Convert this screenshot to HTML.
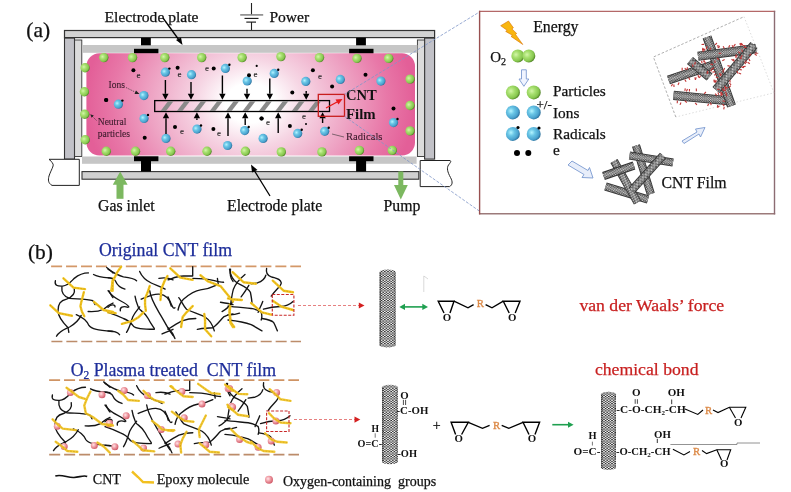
<!DOCTYPE html>
<html><head><meta charset="utf-8"><title>CNT plasma figure</title>
<style>
html,body{margin:0;padding:0;background:#fff;}
body{width:791px;height:492px;overflow:hidden;}
svg{display:block;}
svg text{font-family:'Liberation Serif', 'Times New Roman', serif;}
</style></head><body>
<svg width="791" height="492" viewBox="0 0 791 492">
<rect width="791" height="492" fill="#fff"/>

<defs>
 <radialGradient id="plasma" gradientUnits="userSpaceOnUse" cx="250" cy="103" r="165" gradientTransform="translate(250 103) scale(1 0.8) translate(-250 -103)">
  <stop offset="0" stop-color="#ffffff"/>
  <stop offset="0.15" stop-color="#ffffff"/>
  <stop offset="0.33" stop-color="#f6d6e4"/>
  <stop offset="0.6" stop-color="#eea4c4"/>
  <stop offset="0.83" stop-color="#e878a8"/>
  <stop offset="1" stop-color="#e35f98"/>
 </radialGradient>
 <radialGradient id="gs" cx="0.36" cy="0.4" r="0.68">
  <stop offset="0" stop-color="#d4f6aa"/>
  <stop offset="0.35" stop-color="#a8e070"/>
  <stop offset="0.75" stop-color="#86c64e"/>
  <stop offset="1" stop-color="#44741c"/>
 </radialGradient>
 <radialGradient id="bs" cx="0.36" cy="0.4" r="0.68">
  <stop offset="0" stop-color="#b4f4ff"/>
  <stop offset="0.35" stop-color="#6ac6e6"/>
  <stop offset="0.75" stop-color="#4aa2ce"/>
  <stop offset="1" stop-color="#266690"/>
 </radialGradient>
 <radialGradient id="ps" cx="0.38" cy="0.38" r="0.66">
  <stop offset="0" stop-color="#ffe4e8"/>
  <stop offset="0.45" stop-color="#f0a0a8"/>
  <stop offset="1" stop-color="#d05866"/>
 </radialGradient>
 <pattern id="mesh" width="3.2" height="2.8" patternUnits="userSpaceOnUse">
  <rect width="3.2" height="2.8" fill="#fff"/>
  <circle cx="1.6" cy="1.4" r="1.05" fill="none" stroke="#111" stroke-width="0.75"/>
 </pattern>
 <pattern id="chk" width="3.2" height="2.4" patternUnits="userSpaceOnUse">
  <rect width="3.2" height="2.4" fill="#fff"/>
  <rect x="0" y="0" width="1.6" height="1.1" fill="#1a1a1a"/>
  <rect x="1.6" y="1.2" width="1.6" height="1.1" fill="#1a1a1a"/>
 </pattern>
 <pattern id="chk2" width="2.6" height="2.4" patternUnits="userSpaceOnUse">
  <rect width="2.6" height="2.4" fill="#e8e8e8"/>
  <rect x="0" y="0" width="1.3" height="1.2" fill="#333"/>
  <rect x="1.3" y="1.2" width="1.3" height="1.2" fill="#333"/>
 </pattern>
 <pattern id="hexd" width="2.3" height="2.0" patternUnits="userSpaceOnUse">
  <rect width="2.3" height="2.0" fill="#383838"/>
  <circle cx="0.575" cy="0.5" r="0.52" fill="#eeeeee"/>
  <circle cx="1.725" cy="1.5" r="0.52" fill="#eeeeee"/>
 </pattern>
 <pattern id="mesh2" width="2.6" height="2.4" patternUnits="userSpaceOnUse">
  <rect width="2.6" height="2.4" fill="#555"/>
  <circle cx="1.3" cy="1.2" r="0.6" fill="#ddd"/>
 </pattern>
</defs>

<text x="26.3" y="37.2" font-size="21.5" fill="#111" font-weight="normal" text-anchor="start" stroke="#111" stroke-width="0.25" >(a)</text>
<text x="104.6" y="21.9" font-size="15.6" fill="#111" font-weight="normal" text-anchor="start" stroke="#111" stroke-width="0.25" >Electrode plate</text>
<text x="269.4" y="21.8" font-size="15.6" fill="#111" font-weight="normal" text-anchor="start" stroke="#111" stroke-width="0.25" >Power</text>
<line x1="251.5" y1="3" x2="251.5" y2="15" stroke="#222" stroke-width="1.1"/>
<line x1="240.2" y1="14.9" x2="263.2" y2="14.9" stroke="#888" stroke-width="1.6"/>
<line x1="244.5" y1="18.4" x2="258.5" y2="18.4" stroke="#111" stroke-width="1.1"/>
<line x1="246.3" y1="22.1" x2="255.9" y2="22.1" stroke="#111" stroke-width="1.1"/>
<line x1="251.5" y1="22" x2="251.5" y2="30.5" stroke="#222" stroke-width="1.1"/>
<rect x="64.5" y="30.5" width="370.1" height="7.1" fill="#d2d2d2" stroke="#333" stroke-width="1.2"/>
<rect x="64.5" y="38.1" width="10" height="121" fill="#c2c2c8" stroke="#333" stroke-width="1.1"/>
<rect x="424.6" y="38.1" width="10" height="121" fill="#c2c2c8" stroke="#333" stroke-width="1.1"/>
<rect x="74.6" y="40" width="7.2" height="116.5" fill="#dcdcdc" stroke="#333" stroke-width="0.9"/>
<rect x="417.4" y="40" width="7.2" height="116.5" fill="#dcdcdc" stroke="#333" stroke-width="0.9"/>
<rect x="82" y="45" width="335.4" height="7.8" fill="#c6c6c6"/>
<rect x="82" y="156.5" width="334.6" height="7.3" fill="#c6c6c6"/>
<rect x="82" y="171.6" width="336.8" height="7.6" fill="#d0d0d0" stroke="#333" stroke-width="1.1"/>
<path d="M49,159.3 L79.3,159.3 L79.3,185.4 L52,185.4 C48,183 48,180 49,176 C51,170 54,166 53,164 C52,162 50,160 49,159.3 Z" fill="#fff" stroke="#222" stroke-width="1"/>
<path d="M420.2,160.5 L450,160.5 C451.5,161.2 450.5,162.5 448.5,165 C446.5,168 447.5,172 450.5,177.5 C453,182 452.5,185 449.5,186.6 L420.2,186.6 Z" fill="#fff" stroke="#222" stroke-width="1"/>
<rect x="134" y="48.8" width="24.4" height="5" fill="#000"/>
<rect x="141" y="37.8" width="9.8" height="7.5" fill="#000"/>
<rect x="134" y="156.3" width="24.4" height="4.9" fill="#000"/>
<rect x="141" y="161" width="10" height="10.6" fill="#000"/>
<rect x="349.1" y="48.8" width="24.4" height="5" fill="#000"/>
<rect x="356.1" y="37.8" width="9.8" height="7.5" fill="#000"/>
<rect x="349.1" y="156.3" width="24.4" height="4.9" fill="#000"/>
<rect x="356.1" y="161" width="10" height="10.6" fill="#000"/>
<rect x="86.4" y="53.2" width="328.6" height="102.3" rx="13" ry="13" fill="url(#plasma)"/>
<rect x="154.7" y="100.6" width="174.8" height="10.9" fill="none" stroke="#000" stroke-width="1.3"/>
<polygon points="160.5,111 166.0,111 173.5,101.2 168.0,101.2" fill="#8a8a8a"/>
<polygon points="176.9,111 182.4,111 189.9,101.2 184.4,101.2" fill="#8a8a8a"/>
<polygon points="193.3,111 198.8,111 206.3,101.2 200.8,101.2" fill="#8a8a8a"/>
<polygon points="209.7,111 215.2,111 222.7,101.2 217.2,101.2" fill="#8a8a8a"/>
<polygon points="226.1,111 231.6,111 239.1,101.2 233.6,101.2" fill="#8a8a8a"/>
<polygon points="242.5,111 248.0,111 255.5,101.2 250.0,101.2" fill="#8a8a8a"/>
<polygon points="258.9,111 264.4,111 271.9,101.2 266.4,101.2" fill="#8a8a8a"/>
<polygon points="275.3,111 280.8,111 288.3,101.2 282.8,101.2" fill="#8a8a8a"/>
<polygon points="291.7,111 297.2,111 304.7,101.2 299.2,101.2" fill="#8a8a8a"/>
<polygon points="308.1,111 313.6,111 321.1,101.2 315.6,101.2" fill="#8a8a8a"/>
<circle cx="103.8" cy="57.6" r="4.7" fill="url(#gs)"/>
<circle cx="132.5" cy="57.6" r="4.7" fill="url(#gs)"/>
<circle cx="164.8" cy="57.6" r="4.7" fill="url(#gs)"/>
<circle cx="201.7" cy="57.6" r="4.7" fill="url(#gs)"/>
<circle cx="242.1" cy="57.6" r="4.7" fill="url(#gs)"/>
<circle cx="280.9" cy="56.6" r="4.7" fill="url(#gs)"/>
<circle cx="319.5" cy="57.6" r="4.7" fill="url(#gs)"/>
<circle cx="357" cy="58.4" r="4.7" fill="url(#gs)"/>
<circle cx="388.7" cy="58.4" r="4.7" fill="url(#gs)"/>
<circle cx="85.1" cy="67.8" r="4.7" fill="url(#gs)"/>
<circle cx="84.4" cy="91.8" r="4.7" fill="url(#gs)"/>
<circle cx="84.7" cy="114.2" r="4.7" fill="url(#gs)"/>
<circle cx="85.2" cy="139.8" r="4.7" fill="url(#gs)"/>
<circle cx="106.3" cy="151.2" r="4.7" fill="url(#gs)"/>
<circle cx="135.5" cy="151.2" r="4.7" fill="url(#gs)"/>
<circle cx="170.7" cy="151.2" r="4.7" fill="url(#gs)"/>
<circle cx="207" cy="151.2" r="4.7" fill="url(#gs)"/>
<circle cx="245.4" cy="151.2" r="4.7" fill="url(#gs)"/>
<circle cx="281.3" cy="151.9" r="4.7" fill="url(#gs)"/>
<circle cx="321.9" cy="151.9" r="4.7" fill="url(#gs)"/>
<circle cx="359.4" cy="150.4" r="4.7" fill="url(#gs)"/>
<circle cx="392.3" cy="150.4" r="4.7" fill="url(#gs)"/>
<circle cx="410.1" cy="79.1" r="4.7" fill="url(#gs)"/>
<circle cx="410.1" cy="105.5" r="4.7" fill="url(#gs)"/>
<circle cx="410.1" cy="130.9" r="4.7" fill="url(#gs)"/>
<circle cx="165.4" cy="72.2" r="4.6" fill="url(#bs)"/>
<circle cx="143.9" cy="95.6" r="4.6" fill="url(#bs)"/>
<circle cx="118.4" cy="104.2" r="4.6" fill="url(#bs)"/>
<circle cx="144" cy="118.5" r="4.6" fill="url(#bs)"/>
<circle cx="166" cy="138.4" r="4.6" fill="url(#bs)"/>
<circle cx="191.5" cy="74.7" r="4.6" fill="url(#bs)"/>
<circle cx="225.4" cy="68.4" r="4.6" fill="url(#bs)"/>
<circle cx="247.2" cy="81" r="4.6" fill="url(#bs)"/>
<circle cx="197" cy="129.1" r="4.6" fill="url(#bs)"/>
<circle cx="227.6" cy="145.5" r="4.6" fill="url(#bs)"/>
<circle cx="244.7" cy="130.6" r="4.6" fill="url(#bs)"/>
<circle cx="263.1" cy="138.4" r="4.6" fill="url(#bs)"/>
<circle cx="274.2" cy="73.4" r="4.6" fill="url(#bs)"/>
<circle cx="305.8" cy="81.4" r="4.6" fill="url(#bs)"/>
<circle cx="340.3" cy="79.4" r="4.6" fill="url(#bs)"/>
<circle cx="297.7" cy="133.4" r="4.6" fill="url(#bs)"/>
<circle cx="324.7" cy="131.3" r="4.6" fill="url(#bs)"/>
<circle cx="380.9" cy="81.1" r="4.6" fill="url(#bs)"/>
<circle cx="393.5" cy="122.6" r="4.6" fill="url(#bs)"/>
<circle cx="169.4" cy="68.60000000000001" r="1.2" fill="#000"/>
<circle cx="122.4" cy="100.60000000000001" r="1.2" fill="#000"/>
<circle cx="148" cy="114.9" r="1.2" fill="#000"/>
<circle cx="229.4" cy="64.80000000000001" r="1.2" fill="#000"/>
<circle cx="201" cy="125.5" r="1.2" fill="#000"/>
<circle cx="278.2" cy="69.80000000000001" r="1.2" fill="#000"/>
<circle cx="301.7" cy="129.8" r="1.2" fill="#000"/>
<circle cx="328.7" cy="127.70000000000002" r="1.2" fill="#000"/>
<circle cx="397.5" cy="119.0" r="1.2" fill="#000"/>
<circle cx="248.7" cy="127.0" r="1.2" fill="#000"/>
<circle cx="133.4" cy="70.3" r="2.0" fill="#000"/>
<circle cx="106" cy="100" r="2.0" fill="#000"/>
<circle cx="106.3" cy="100" r="2.0" fill="#000"/>
<circle cx="144.7" cy="137.7" r="2.0" fill="#000"/>
<circle cx="177.6" cy="67.8" r="2.0" fill="#000"/>
<circle cx="213.7" cy="68.4" r="2.0" fill="#000"/>
<circle cx="249" cy="75.3" r="2.0" fill="#000"/>
<circle cx="175" cy="127" r="2.0" fill="#000"/>
<circle cx="213.4" cy="129.1" r="2.0" fill="#000"/>
<circle cx="261.7" cy="118.5" r="2.0" fill="#000"/>
<circle cx="312.9" cy="70.3" r="2.0" fill="#000"/>
<circle cx="292.3" cy="92.4" r="2.0" fill="#000"/>
<circle cx="332.1" cy="86.5" r="2.0" fill="#000"/>
<circle cx="261.4" cy="118.5" r="2.0" fill="#000"/>
<circle cx="289.9" cy="126" r="2.0" fill="#000"/>
<circle cx="365.5" cy="74.8" r="2.0" fill="#000"/>
<circle cx="393.5" cy="108.4" r="2.0" fill="#000"/>
<circle cx="256.7" cy="65.9" r="1.1" fill="#000"/>
<circle cx="306" cy="124" r="1.0" fill="#000"/>
<text x="138.5" y="78" font-size="9" fill="#222" font-weight="normal" text-anchor="middle" stroke="#222" stroke-width="0.1" >e</text>
<text x="179.5" y="76.5" font-size="9" fill="#222" font-weight="normal" text-anchor="middle" stroke="#222" stroke-width="0.1" >e</text>
<text x="207" y="71" font-size="9" fill="#222" font-weight="normal" text-anchor="middle" stroke="#222" stroke-width="0.1" >e</text>
<text x="255.5" y="77" font-size="9" fill="#222" font-weight="normal" text-anchor="middle" stroke="#222" stroke-width="0.1" >e</text>
<text x="320" y="79" font-size="9" fill="#222" font-weight="normal" text-anchor="middle" stroke="#222" stroke-width="0.1" >e</text>
<text x="182" y="133.5" font-size="9" fill="#222" font-weight="normal" text-anchor="middle" stroke="#222" stroke-width="0.1" >e</text>
<text x="219" y="136" font-size="9" fill="#222" font-weight="normal" text-anchor="middle" stroke="#222" stroke-width="0.1" >e</text>
<text x="268" y="124.5" font-size="9" fill="#222" font-weight="normal" text-anchor="middle" stroke="#222" stroke-width="0.1" >e</text>
<text x="304" y="119" font-size="9" fill="#222" font-weight="normal" text-anchor="middle" stroke="#222" stroke-width="0.1" >e</text>
<line x1="165.4" y1="80" x2="165.4" y2="93.8" stroke="#000" stroke-width="1.4"/>
<polygon points="162.20000000000002,93.8 168.6,93.8 165.4,99.8" fill="#000"/>
<line x1="191" y1="82" x2="191" y2="93.8" stroke="#000" stroke-width="1.4"/>
<polygon points="187.8,93.8 194.2,93.8 191,99.8" fill="#000"/>
<line x1="222.4" y1="75.5" x2="222.4" y2="93.8" stroke="#000" stroke-width="1.4"/>
<polygon points="219.20000000000002,93.8 225.6,93.8 222.4,99.8" fill="#000"/>
<line x1="247" y1="88.7" x2="247" y2="93.8" stroke="#000" stroke-width="1.4"/>
<polygon points="243.8,93.8 250.2,93.8 247,99.8" fill="#000"/>
<line x1="269.8" y1="78.5" x2="269.8" y2="93.8" stroke="#000" stroke-width="1.4"/>
<polygon points="266.6,93.8 273.0,93.8 269.8,99.8" fill="#000"/>
<line x1="306.2" y1="91" x2="306.2" y2="93.8" stroke="#000" stroke-width="1.4"/>
<polygon points="303.0,93.8 309.4,93.8 306.2,99.8" fill="#000"/>
<line x1="166" y1="134" x2="166" y2="118.2" stroke="#000" stroke-width="1.4"/>
<polygon points="162.8,118.2 169.2,118.2 166,112.2" fill="#000"/>
<line x1="196.9" y1="120" x2="196.9" y2="118.2" stroke="#000" stroke-width="1.4"/>
<polygon points="193.70000000000002,118.2 200.1,118.2 196.9,112.2" fill="#000"/>
<line x1="228" y1="136" x2="228" y2="118.2" stroke="#000" stroke-width="1.4"/>
<polygon points="224.8,118.2 231.2,118.2 228,112.2" fill="#000"/>
<line x1="245.2" y1="125" x2="245.2" y2="118.2" stroke="#000" stroke-width="1.4"/>
<polygon points="242.0,118.2 248.39999999999998,118.2 245.2,112.2" fill="#000"/>
<line x1="278.2" y1="133" x2="278.2" y2="118.2" stroke="#000" stroke-width="1.4"/>
<polygon points="275.0,118.2 281.4,118.2 278.2,112.2" fill="#000"/>
<line x1="322.6" y1="123" x2="322.6" y2="118.2" stroke="#000" stroke-width="1.4"/>
<polygon points="319.40000000000003,118.2 325.8,118.2 322.6,112.2" fill="#000"/>
<text x="108.5" y="88" font-size="9.5" fill="#3a1a2a" font-weight="normal" text-anchor="start" stroke="#3a1a2a" stroke-width="0.1" >Ions</text>
<line x1="126" y1="87.5" x2="136" y2="92.5" stroke="#333" stroke-width="0.7" stroke-dasharray="1.5 1"/>
<polygon points="136,90.5 139.5,94 134.5,94" fill="#222"/>
<text x="97.8" y="124.9" font-size="9.5" fill="#3a1a2a" font-weight="normal" text-anchor="start" stroke="#3a1a2a" stroke-width="0.1" >Neutral</text>
<text x="97.8" y="137.4" font-size="9.5" fill="#3a1a2a" font-weight="normal" text-anchor="start" stroke="#3a1a2a" stroke-width="0.1" >particles</text>
<line x1="96.5" y1="120.5" x2="92" y2="116" stroke="#333" stroke-width="0.7" stroke-dasharray="1.5 1"/>
<polygon points="90.3,114.3 93.8,115.6 91.6,117.8" fill="#222"/>
<text x="346" y="139.6" font-size="10.6" fill="#3a1a2a" font-weight="normal" text-anchor="start" stroke="#3a1a2a" stroke-width="0.12" >Radicals</text>
<line x1="332" y1="134" x2="344" y2="137" stroke="#333" stroke-width="0.6"/>
<rect x="318.3" y="94.4" width="26.2" height="21.9" fill="none" stroke="#c81e1e" stroke-width="1.3"/>
<line x1="326" y1="108" x2="338" y2="101.5" stroke="#e81818" stroke-width="1.4"/>
<polygon points="342.5,99 335.5,99.5 338.5,104.5" fill="#e81818"/>
<text x="346" y="99.5" font-size="14.6" fill="#111" font-weight="bold" text-anchor="start" >CNT</text>
<text x="346" y="118.8" font-size="14.8" fill="#111" font-weight="bold" text-anchor="start" >Film</text>
<line x1="344.5" y1="94.4" x2="479" y2="12.3" stroke="#7f95c8" stroke-width="0.8" stroke-dasharray="3 1.5"/>
<line x1="344.5" y1="116.3" x2="479" y2="210.8" stroke="#7f95c8" stroke-width="0.8" stroke-dasharray="3 1.5"/>
<polygon points="112.8,184.7 127.6,184.7 120.2,171.5" fill="#7cb860"/>
<rect x="116.5" y="184" width="7" height="14.8" fill="#7cb860"/>
<text x="98" y="211.3" font-size="15.8" fill="#111" font-weight="normal" text-anchor="start" stroke="#111" stroke-width="0.25" >Gas inlet</text>
<text x="227" y="211.3" font-size="15.8" fill="#111" font-weight="normal" text-anchor="start" stroke="#111" stroke-width="0.25" >Electrode plate</text>
<line x1="270" y1="196" x2="254" y2="170" stroke="#000" stroke-width="1.3"/>
<polygon points="251,164.5 257.5,170 252,172.5" fill="#000"/>
<line x1="163" y1="18" x2="179" y2="40" stroke="#000" stroke-width="1.3"/>
<polygon points="182.5,45 176,40 181,37.5" fill="#000"/>
<rect x="398.3" y="171.5" width="5" height="14" fill="#7cb860"/>
<polygon points="394,185 407.8,185 400.8,199.6" fill="#7cb860"/>
<text x="383.5" y="211.3" font-size="15.8" fill="#111" font-weight="normal" text-anchor="start" stroke="#111" stroke-width="0.25" >Pump</text>
<line x1="479" y1="11.4" x2="775.2" y2="11.4" stroke="#b46868" stroke-width="1.3"/>
<line x1="479" y1="213.8" x2="775.2" y2="213.8" stroke="#9c7a7a" stroke-width="1.4"/>
<line x1="479.6" y1="10.8" x2="479.6" y2="214.4" stroke="#985050" stroke-width="1.4"/>
<line x1="774.5" y1="10.8" x2="774.5" y2="214.4" stroke="#8c6c72" stroke-width="1.4"/>
<polygon points="500.7,25.7 508.5,21 513.4,27.8 511.9,28.9 516.7,33.5 515.5,34.4 522.8,44.5 511,36.4 512.4,35.3 505.7,31.4 507.1,30.3" fill="#f8b610" stroke="#d87000" stroke-width="0.6"/>
<text x="533.2" y="32.4" font-size="15.8" fill="#111" font-weight="normal" text-anchor="start" stroke="#111" stroke-width="0.25" >Energy</text>
<text x="490.2" y="61.5" font-size="15" fill="#111" font-weight="normal" text-anchor="start" stroke="#111" stroke-width="0.25" >O<tspan font-size="10" dy="3">2</tspan></text>
<circle cx="517.8" cy="55.9" r="6.5" fill="url(#gs)"/>
<circle cx="528.8" cy="55.9" r="6.5" fill="url(#gs)"/>
<path d="M521.5,69.8 L526.3,69.8 L526.3,79 L528.8,79 L523.9,86.3 L519,79 L521.5,79 Z" fill="#f0f4ff" stroke="#7a9ad0" stroke-width="0.9"/>
<circle cx="512.9" cy="92.4" r="7" fill="url(#gs)"/>
<circle cx="533.7" cy="92.4" r="7" fill="url(#gs)"/>
<circle cx="512.9" cy="112.4" r="7" fill="url(#bs)"/>
<circle cx="533.7" cy="112.4" r="7" fill="url(#bs)"/>
<circle cx="512.9" cy="133.9" r="7" fill="url(#bs)"/>
<circle cx="533.7" cy="133.9" r="7" fill="url(#bs)"/>
<circle cx="518" cy="127.5" r="1.6" fill="#000"/>
<circle cx="539" cy="128" r="1.6" fill="#000"/>
<circle cx="517" cy="153" r="3" fill="#000"/>
<circle cx="528.3" cy="153" r="3" fill="#000"/>
<text x="553" y="95.6" font-size="15.3" fill="#111" font-weight="normal" text-anchor="start" stroke="#111" stroke-width="0.25" >Particles</text>
<text x="536.5" y="109" font-size="13" fill="#111" font-weight="normal" text-anchor="start" stroke="#111" stroke-width="0.25" >+/-</text>
<text x="553" y="117.6" font-size="15.3" fill="#111" font-weight="normal" text-anchor="start" stroke="#111" stroke-width="0.25" >Ions</text>
<text x="553" y="138.8" font-size="15.3" fill="#111" font-weight="normal" text-anchor="start" stroke="#111" stroke-width="0.25" >Radicals</text>
<text x="553" y="155" font-size="15.3" fill="#111" font-weight="normal" text-anchor="start" stroke="#111" stroke-width="0.25" >e</text>
<text x="661.5" y="188.4" font-size="15.8" fill="#111" font-weight="normal" text-anchor="start" stroke="#111" stroke-width="0.25" >CNT Film</text>
<path d="M572,161 L588,170.5 L589.5,167.5 L593,178 L582,177.5 L584,174.5 L568,165 Z" fill="#e8eefa" stroke="#7a9ad0" stroke-width="0.9"/>
<path d="M682,141 L697,132 L695.5,129 L705,127.5 L700.5,137 L699,134 L684,143.5 Z" fill="#e8eefa" stroke="#7a9ad0" stroke-width="0.9"/>
<pattern id="tp1" href="#hexd" patternTransform="translate(636 145.5) rotate(73.0)"/>
<line x1="636" y1="145.5" x2="650.8" y2="194" stroke="#303030" stroke-width="8.2" stroke-linecap="butt"/>
<line x1="636" y1="145.5" x2="650.8" y2="194" stroke="url(#tp1)" stroke-width="6.6" stroke-linecap="butt"/>
<line x1="636" y1="145.5" x2="650.8" y2="194" stroke="#fff" stroke-opacity="0.22" stroke-width="3.0" stroke-linecap="butt"/>
<pattern id="tp2" href="#hexd" patternTransform="translate(605.5 186.5) rotate(17.0)"/>
<line x1="605.5" y1="186.5" x2="648" y2="199.5" stroke="#303030" stroke-width="8.2" stroke-linecap="butt"/>
<line x1="605.5" y1="186.5" x2="648" y2="199.5" stroke="url(#tp2)" stroke-width="6.6" stroke-linecap="butt"/>
<line x1="605.5" y1="186.5" x2="648" y2="199.5" stroke="#fff" stroke-opacity="0.22" stroke-width="3.0" stroke-linecap="butt"/>
<pattern id="tp3" href="#hexd" patternTransform="translate(614 161) rotate(60.5)"/>
<line x1="614" y1="161" x2="637.5" y2="202.5" stroke="#303030" stroke-width="8.2" stroke-linecap="butt"/>
<line x1="614" y1="161" x2="637.5" y2="202.5" stroke="url(#tp3)" stroke-width="6.6" stroke-linecap="butt"/>
<line x1="614" y1="161" x2="637.5" y2="202.5" stroke="#fff" stroke-opacity="0.22" stroke-width="3.0" stroke-linecap="butt"/>
<pattern id="tp4" href="#hexd" patternTransform="translate(603.5 176) rotate(-19.0)"/>
<line x1="603.5" y1="176" x2="634" y2="165.5" stroke="#303030" stroke-width="8.2" stroke-linecap="butt"/>
<line x1="603.5" y1="176" x2="634" y2="165.5" stroke="url(#tp4)" stroke-width="6.6" stroke-linecap="butt"/>
<line x1="603.5" y1="176" x2="634" y2="165.5" stroke="#fff" stroke-opacity="0.22" stroke-width="3.0" stroke-linecap="butt"/>
<pattern id="tp5" href="#hexd" patternTransform="translate(629.5 155.5) rotate(9.1)"/>
<line x1="629.5" y1="155.5" x2="673" y2="162.5" stroke="#303030" stroke-width="8.2" stroke-linecap="butt"/>
<line x1="629.5" y1="155.5" x2="673" y2="162.5" stroke="url(#tp5)" stroke-width="6.6" stroke-linecap="butt"/>
<line x1="629.5" y1="155.5" x2="673" y2="162.5" stroke="#fff" stroke-opacity="0.22" stroke-width="3.0" stroke-linecap="butt"/>
<pattern id="tp6" href="#hexd" patternTransform="translate(663 155.5) rotate(131.9)"/>
<line x1="663" y1="155.5" x2="631.6" y2="190.5" stroke="#303030" stroke-width="8.2" stroke-linecap="butt"/>
<line x1="663" y1="155.5" x2="631.6" y2="190.5" stroke="url(#tp6)" stroke-width="6.6" stroke-linecap="butt"/>
<line x1="663" y1="155.5" x2="631.6" y2="190.5" stroke="#fff" stroke-opacity="0.22" stroke-width="3.0" stroke-linecap="butt"/>
<polyline points="675.8,117 653.4,57 744,16.7" fill="none" stroke="#777" stroke-width="0.6" stroke-dasharray="2.5 1.8"/>
<polyline points="744,16.7 774,92.8 675.8,117" fill="none" stroke="#bbb" stroke-width="0.5" stroke-dasharray="1.5 2"/>
<pattern id="tp7" href="#hexd" patternTransform="translate(673.5 95.4) rotate(5.6)"/>
<line x1="673.5" y1="95.4" x2="731" y2="101" stroke="#303030" stroke-width="9.2" stroke-linecap="butt"/>
<line x1="673.5" y1="95.4" x2="731" y2="101" stroke="url(#tp7)" stroke-width="7.6" stroke-linecap="butt"/>
<line x1="673.5" y1="95.4" x2="731" y2="101" stroke="#fff" stroke-opacity="0.22" stroke-width="3.4" stroke-linecap="butt"/>
<pattern id="tp8" href="#hexd" patternTransform="translate(668.5 80) rotate(-18.6)"/>
<line x1="668.5" y1="80" x2="713" y2="65" stroke="#303030" stroke-width="9.2" stroke-linecap="butt"/>
<line x1="668.5" y1="80" x2="713" y2="65" stroke="url(#tp8)" stroke-width="7.6" stroke-linecap="butt"/>
<line x1="668.5" y1="80" x2="713" y2="65" stroke="#fff" stroke-opacity="0.22" stroke-width="3.4" stroke-linecap="butt"/>
<pattern id="tp9" href="#hexd" patternTransform="translate(690 60.5) rotate(40.2)"/>
<line x1="690" y1="60.5" x2="709.5" y2="77" stroke="#303030" stroke-width="9.2" stroke-linecap="butt"/>
<line x1="690" y1="60.5" x2="709.5" y2="77" stroke="url(#tp9)" stroke-width="7.6" stroke-linecap="butt"/>
<line x1="690" y1="60.5" x2="709.5" y2="77" stroke="#fff" stroke-opacity="0.22" stroke-width="3.4" stroke-linecap="butt"/>
<pattern id="tp10" href="#hexd" patternTransform="translate(707 37) rotate(70.5)"/>
<line x1="707" y1="37" x2="731.5" y2="106" stroke="#303030" stroke-width="9.2" stroke-linecap="butt"/>
<line x1="707" y1="37" x2="731.5" y2="106" stroke="url(#tp10)" stroke-width="7.6" stroke-linecap="butt"/>
<line x1="707" y1="37" x2="731.5" y2="106" stroke="#fff" stroke-opacity="0.22" stroke-width="3.4" stroke-linecap="butt"/>
<pattern id="tp11" href="#hexd" patternTransform="translate(698 56.2) rotate(-7.5)"/>
<line x1="698" y1="56.2" x2="756" y2="48.6" stroke="#303030" stroke-width="9.2" stroke-linecap="butt"/>
<line x1="698" y1="56.2" x2="756" y2="48.6" stroke="url(#tp11)" stroke-width="7.6" stroke-linecap="butt"/>
<line x1="698" y1="56.2" x2="756" y2="48.6" stroke="#fff" stroke-opacity="0.22" stroke-width="3.4" stroke-linecap="butt"/>
<pattern id="tp12" href="#hexd" patternTransform="translate(754 45) rotate(130.2)"/>
<line x1="754" y1="45" x2="716" y2="90" stroke="#303030" stroke-width="9.2" stroke-linecap="butt"/>
<line x1="754" y1="45" x2="716" y2="90" stroke="url(#tp12)" stroke-width="7.6" stroke-linecap="butt"/>
<line x1="754" y1="45" x2="716" y2="90" stroke="#fff" stroke-opacity="0.22" stroke-width="3.4" stroke-linecap="butt"/>
<line x1="693.0" y1="66.9" x2="692.6" y2="64.3" stroke="#c03434" stroke-width="1.1"/>
<line x1="754.6" y1="53.9" x2="756.7" y2="55.5" stroke="#c03434" stroke-width="1.1"/>
<line x1="740.2" y1="53.4" x2="738.3" y2="51.6" stroke="#c03434" stroke-width="1.1"/>
<line x1="733.7" y1="47.3" x2="731.9" y2="45.4" stroke="#c03434" stroke-width="1.1"/>
<line x1="743.0" y1="66.6" x2="745.6" y2="66.4" stroke="#c03434" stroke-width="1.1"/>
<line x1="755.2" y1="52.8" x2="757.7" y2="53.6" stroke="#c03434" stroke-width="1.1"/>
<line x1="723.2" y1="72.7" x2="722.9" y2="70.1" stroke="#c03434" stroke-width="1.1"/>
<line x1="739.7" y1="57.2" x2="741.6" y2="59.0" stroke="#c03434" stroke-width="1.1"/>
<line x1="715.1" y1="44.8" x2="716.9" y2="43.0" stroke="#c03434" stroke-width="1.1"/>
<line x1="742.2" y1="55.2" x2="741.0" y2="57.5" stroke="#c03434" stroke-width="1.1"/>
<line x1="736.1" y1="58.1" x2="735.7" y2="55.5" stroke="#c03434" stroke-width="1.1"/>
<line x1="721.2" y1="94.4" x2="720.7" y2="91.9" stroke="#c03434" stroke-width="1.1"/>
<line x1="725.5" y1="87.5" x2="728.0" y2="88.0" stroke="#c03434" stroke-width="1.1"/>
<line x1="745.8" y1="60.4" x2="746.4" y2="63.0" stroke="#c03434" stroke-width="1.1"/>
<line x1="704.9" y1="50.5" x2="703.1" y2="48.6" stroke="#c03434" stroke-width="1.1"/>
<line x1="711.9" y1="69.0" x2="710.8" y2="71.4" stroke="#c03434" stroke-width="1.1"/>
<line x1="721.7" y1="74.4" x2="719.3" y2="73.4" stroke="#c03434" stroke-width="1.1"/>
<line x1="723.5" y1="70.4" x2="724.7" y2="68.0" stroke="#c03434" stroke-width="1.1"/>
<line x1="738.7" y1="73.1" x2="741.1" y2="73.9" stroke="#c03434" stroke-width="1.1"/>
<line x1="717.7" y1="48.0" x2="719.8" y2="46.5" stroke="#c03434" stroke-width="1.1"/>
<line x1="725.0" y1="101.5" x2="722.5" y2="100.7" stroke="#c03434" stroke-width="1.1"/>
<line x1="733.8" y1="46.1" x2="735.4" y2="44.1" stroke="#c03434" stroke-width="1.1"/>
<line x1="747.6" y1="62.3" x2="749.8" y2="63.8" stroke="#c03434" stroke-width="1.1"/>
<line x1="716.4" y1="74.0" x2="714.1" y2="75.2" stroke="#c03434" stroke-width="1.1"/>
<line x1="737.2" y1="56.6" x2="735.7" y2="54.5" stroke="#c03434" stroke-width="1.1"/>
<line x1="708.7" y1="103.7" x2="707.6" y2="106.1" stroke="#c03434" stroke-width="1.1"/>
<line x1="716.3" y1="80.2" x2="715.3" y2="82.6" stroke="#c03434" stroke-width="1.1"/>
<line x1="726.4" y1="94.1" x2="725.5" y2="91.7" stroke="#c03434" stroke-width="1.1"/>
<line x1="717.0" y1="57.8" x2="718.7" y2="59.8" stroke="#c03434" stroke-width="1.1"/>
<line x1="722.7" y1="94.3" x2="720.5" y2="95.7" stroke="#c03434" stroke-width="1.1"/>
<line x1="727.1" y1="96.2" x2="726.1" y2="93.8" stroke="#c03434" stroke-width="1.1"/>
<line x1="718.7" y1="53.4" x2="721.3" y2="53.2" stroke="#c03434" stroke-width="1.1"/>
<line x1="681.0" y1="102.5" x2="680.0" y2="104.9" stroke="#c03434" stroke-width="1.1"/>
<line x1="687.1" y1="69.8" x2="687.4" y2="67.2" stroke="#c03434" stroke-width="1.1"/>
<line x1="707.5" y1="71.4" x2="707.0" y2="73.9" stroke="#c03434" stroke-width="1.1"/>
<line x1="704.2" y1="93.9" x2="705.9" y2="91.9" stroke="#c03434" stroke-width="1.1"/>
<line x1="742.4" y1="51.8" x2="741.7" y2="49.3" stroke="#c03434" stroke-width="1.1"/>
<line x1="717.6" y1="105.0" x2="717.7" y2="107.6" stroke="#c03434" stroke-width="1.1"/>
<line x1="721.2" y1="76.2" x2="719.7" y2="74.1" stroke="#c03434" stroke-width="1.1"/>
<line x1="714.1" y1="67.7" x2="711.8" y2="69.0" stroke="#c03434" stroke-width="1.1"/>
<line x1="672.6" y1="84.1" x2="671.2" y2="86.3" stroke="#c03434" stroke-width="1.1"/>
<line x1="673.9" y1="84.5" x2="674.0" y2="87.1" stroke="#c03434" stroke-width="1.1"/>
<line x1="714.4" y1="82.3" x2="713.9" y2="79.7" stroke="#c03434" stroke-width="1.1"/>
<line x1="723.4" y1="90.4" x2="726.0" y2="90.1" stroke="#c03434" stroke-width="1.1"/>
<line x1="716.5" y1="81.3" x2="713.9" y2="81.7" stroke="#c03434" stroke-width="1.1"/>
<line x1="684.9" y1="100.7" x2="686.7" y2="102.6" stroke="#c03434" stroke-width="1.1"/>
<line x1="741.4" y1="66.9" x2="743.9" y2="67.6" stroke="#c03434" stroke-width="1.1"/>
<line x1="739.3" y1="69.5" x2="741.8" y2="69.9" stroke="#c03434" stroke-width="1.1"/>
<line x1="724.8" y1="85.8" x2="725.7" y2="88.2" stroke="#c03434" stroke-width="1.1"/>
<line x1="702.1" y1="63.4" x2="701.6" y2="60.9" stroke="#c03434" stroke-width="1.1"/>
<line x1="704.1" y1="59.7" x2="703.8" y2="62.3" stroke="#c03434" stroke-width="1.1"/>
<line x1="734.2" y1="61.5" x2="733.5" y2="59.0" stroke="#c03434" stroke-width="1.1"/>
<line x1="716.9" y1="95.7" x2="715.2" y2="93.7" stroke="#c03434" stroke-width="1.1"/>
<line x1="721.1" y1="95.0" x2="721.3" y2="92.4" stroke="#c03434" stroke-width="1.1"/>
<line x1="684.8" y1="79.4" x2="686.1" y2="81.7" stroke="#c03434" stroke-width="1.1"/>
<line x1="722.3" y1="60.7" x2="724.6" y2="59.5" stroke="#c03434" stroke-width="1.1"/>
<line x1="694.9" y1="77.3" x2="695.4" y2="79.9" stroke="#c03434" stroke-width="1.1"/>
<line x1="695.2" y1="102.9" x2="696.9" y2="104.9" stroke="#c03434" stroke-width="1.1"/>
<line x1="704.4" y1="61.2" x2="705.6" y2="63.5" stroke="#c03434" stroke-width="1.1"/>
<line x1="724.4" y1="48.5" x2="723.1" y2="46.3" stroke="#c03434" stroke-width="1.1"/>
<line x1="746.5" y1="47.5" x2="743.9" y2="47.4" stroke="#c03434" stroke-width="1.1"/>
<line x1="724.2" y1="106.8" x2="723.7" y2="109.3" stroke="#c03434" stroke-width="1.1"/>
<line x1="716.9" y1="45.9" x2="719.4" y2="46.1" stroke="#c03434" stroke-width="1.1"/>
<line x1="729.4" y1="83.0" x2="731.1" y2="84.9" stroke="#c03434" stroke-width="1.1"/>
<line x1="718.9" y1="94.9" x2="717.9" y2="92.5" stroke="#c03434" stroke-width="1.1"/>
<line x1="702.5" y1="50.4" x2="702.9" y2="47.8" stroke="#c03434" stroke-width="1.1"/>
<line x1="709.7" y1="50.1" x2="710.9" y2="47.8" stroke="#c03434" stroke-width="1.1"/>
<line x1="719.5" y1="105.9" x2="717.4" y2="107.5" stroke="#c03434" stroke-width="1.1"/>
<line x1="744.6" y1="61.7" x2="745.6" y2="64.1" stroke="#c03434" stroke-width="1.1"/>
<line x1="736.9" y1="71.1" x2="738.0" y2="73.5" stroke="#c03434" stroke-width="1.1"/>
<line x1="745.3" y1="45.8" x2="742.8" y2="45.5" stroke="#c03434" stroke-width="1.1"/>
<line x1="689.4" y1="91.5" x2="689.5" y2="88.9" stroke="#c03434" stroke-width="1.1"/>
<line x1="714.9" y1="60.4" x2="715.0" y2="63.0" stroke="#c03434" stroke-width="1.1"/>
<line x1="696.4" y1="91.2" x2="696.3" y2="88.6" stroke="#c03434" stroke-width="1.1"/>
<line x1="688.6" y1="77.4" x2="689.9" y2="79.7" stroke="#c03434" stroke-width="1.1"/>
<line x1="679.1" y1="82.5" x2="678.0" y2="84.9" stroke="#c03434" stroke-width="1.1"/>
<line x1="722.6" y1="88.3" x2="723.6" y2="90.7" stroke="#c03434" stroke-width="1.1"/>
<line x1="696.2" y1="77.3" x2="695.4" y2="79.8" stroke="#c03434" stroke-width="1.1"/>
<line x1="715.3" y1="82.3" x2="714.7" y2="79.8" stroke="#c03434" stroke-width="1.1"/>
<line x1="718.2" y1="77.8" x2="715.8" y2="76.9" stroke="#c03434" stroke-width="1.1"/>
<line x1="714.9" y1="71.6" x2="712.4" y2="72.2" stroke="#c03434" stroke-width="1.1"/>
<line x1="682.1" y1="70.4" x2="682.2" y2="67.8" stroke="#c03434" stroke-width="1.1"/>
<line x1="748.8" y1="58.8" x2="750.0" y2="61.1" stroke="#c03434" stroke-width="1.1"/>
<line x1="741.1" y1="45.6" x2="739.6" y2="43.5" stroke="#c03434" stroke-width="1.1"/>
<line x1="694.7" y1="64.5" x2="695.4" y2="62.0" stroke="#c03434" stroke-width="1.1"/>
<line x1="707.6" y1="70.9" x2="707.9" y2="73.5" stroke="#c03434" stroke-width="1.1"/>
<line x1="722.5" y1="104.2" x2="724.3" y2="106.2" stroke="#c03434" stroke-width="1.1"/>
<line x1="686.4" y1="69.9" x2="684.7" y2="68.0" stroke="#c03434" stroke-width="1.1"/>
<line x1="704.1" y1="44.4" x2="701.5" y2="44.5" stroke="#c03434" stroke-width="1.1"/>
<line x1="677.4" y1="100.6" x2="677.2" y2="103.2" stroke="#c03434" stroke-width="1.1"/>
<line x1="698.0" y1="75.0" x2="698.7" y2="77.5" stroke="#c03434" stroke-width="1.1"/>
<line x1="722.6" y1="94.7" x2="721.2" y2="92.5" stroke="#c03434" stroke-width="1.1"/>
<line x1="724.9" y1="87.3" x2="726.2" y2="89.6" stroke="#c03434" stroke-width="1.1"/>
<line x1="719.8" y1="89.3" x2="717.2" y2="89.4" stroke="#c03434" stroke-width="1.1"/>
<line x1="705.4" y1="49.0" x2="702.9" y2="49.7" stroke="#c03434" stroke-width="1.1"/>
<line x1="710.5" y1="102.7" x2="711.2" y2="105.2" stroke="#c03434" stroke-width="1.1"/>
<line x1="729.8" y1="79.9" x2="730.2" y2="82.5" stroke="#c03434" stroke-width="1.1"/>
<line x1="706.5" y1="48.8" x2="706.9" y2="46.2" stroke="#c03434" stroke-width="1.1"/>
<line x1="733.6" y1="60.8" x2="731.5" y2="59.2" stroke="#c03434" stroke-width="1.1"/>
<line x1="729.1" y1="87.7" x2="730.7" y2="85.7" stroke="#c03434" stroke-width="1.1"/>
<line x1="730.0" y1="66.3" x2="727.5" y2="65.6" stroke="#c03434" stroke-width="1.1"/>
<line x1="703.2" y1="51.9" x2="702.9" y2="49.3" stroke="#c03434" stroke-width="1.1"/>
<line x1="700.5" y1="75.7" x2="699.3" y2="78.0" stroke="#c03434" stroke-width="1.1"/>
<line x1="728.6" y1="47.6" x2="729.8" y2="45.3" stroke="#c03434" stroke-width="1.1"/>
<line x1="684.8" y1="90.9" x2="685.3" y2="88.4" stroke="#c03434" stroke-width="1.1"/>
<line x1="686.4" y1="91.4" x2="687.5" y2="89.0" stroke="#c03434" stroke-width="1.1"/>
<line x1="742.8" y1="45.0" x2="741.0" y2="43.1" stroke="#c03434" stroke-width="1.1"/>
<line x1="741.9" y1="45.2" x2="740.3" y2="43.2" stroke="#c03434" stroke-width="1.1"/>
<line x1="713.0" y1="64.6" x2="710.4" y2="64.1" stroke="#c03434" stroke-width="1.1"/>
<line x1="751.0" y1="53.7" x2="749.6" y2="55.9" stroke="#c03434" stroke-width="1.1"/>
<text x="28" y="258.5" font-size="21.4" fill="#111" font-weight="normal" text-anchor="start" stroke="#111" stroke-width="0.25" >(b)</text>
<text x="99" y="255.7" font-size="17.8" fill="#1d2d9a" font-weight="normal" text-anchor="start" stroke="#1d2d9a" stroke-width="0.25" >Original CNT film</text>
<text x="70.7" y="375.6" font-size="17.8" fill="#1d2d9a" font-weight="normal" text-anchor="start" stroke="#1d2d9a" stroke-width="0.25" xml:space="preserve">O<tspan font-size="11.5" dy="3.5">2</tspan><tspan dy="-3.5"> Plasma treated  CNT film</tspan></text>
<line x1="51.1" y1="266.4" x2="301" y2="266.4" stroke="#d49868" stroke-width="1.7" stroke-dasharray="11 3.95"/>
<line x1="51.4" y1="341.5" x2="301" y2="341.5" stroke="#bc8c6a" stroke-width="1.7" stroke-dasharray="11 3.95"/>
<line x1="49.1" y1="380.2" x2="299" y2="380.2" stroke="#cf9464" stroke-width="1.7" stroke-dasharray="11 3.95"/>
<line x1="49.2" y1="454.7" x2="299" y2="454.7" stroke="#bc8c6a" stroke-width="1.7" stroke-dasharray="11 3.95"/>
<g transform="translate(48 266) scale(0.15439)" fill="none" stroke-linecap="round" stroke-linejoin="round">
<path d="M48,95 C40,125 60,132 95,130 C130,128 150,100 170,80 C195,60 230,45 262,45" stroke="#151515" stroke-width="1.35" vector-effect="non-scaling-stroke"/>
<path d="M90,135 C85,175 110,200 140,210 C180,215 250,210 290,225 C300,235 300,245 305,250" stroke="#151515" stroke-width="1.35" vector-effect="non-scaling-stroke"/>
<path d="M170,145 C178,180 160,200 120,215 C80,225 65,245 65,290 C65,330 100,370 130,400 L135,430" stroke="#151515" stroke-width="1.35" vector-effect="non-scaling-stroke"/>
<path d="M55,455 C75,420 110,410 140,395 C175,375 200,350 215,320" stroke="#151515" stroke-width="1.35" vector-effect="non-scaling-stroke"/>
<path d="M183,315 C220,330 250,350 265,385 C280,410 330,415 421,425" stroke="#151515" stroke-width="1.35" vector-effect="non-scaling-stroke"/>
<path d="M260,295 C300,298 340,290 360,280 C380,262 400,248 421,240" stroke="#151515" stroke-width="1.35" vector-effect="non-scaling-stroke"/>
<path d="M295,55 C330,75 380,75 421,80" stroke="#151515" stroke-width="1.35" vector-effect="non-scaling-stroke"/>
<path d="M380,10 C400,25 410,35 421,45" stroke="#151515" stroke-width="1.35" vector-effect="non-scaling-stroke"/>
<path d="M395,160 C405,180 410,195 421,205" stroke="#151515" stroke-width="1.35" vector-effect="non-scaling-stroke"/>
<path d="M100,80 L165,140 L240,150" stroke="#f3c624" stroke-width="2.4" vector-effect="non-scaling-stroke"/>
<path d="M100,80 L165,140 L240,150" stroke="#d8a810" stroke-width="1" stroke-dasharray="1 2" vector-effect="non-scaling-stroke"/>
<path d="M232,170 C225,200 215,230 210,260 C215,290 225,310 235,325" stroke="#f3c624" stroke-width="2.4" vector-effect="non-scaling-stroke"/>
<path d="M232,170 C225,200 215,230 210,260 C215,290 225,310 235,325" stroke="#d8a810" stroke-width="1" stroke-dasharray="1 2" vector-effect="non-scaling-stroke"/>
<path d="M15,255 L70,305 L155,322" stroke="#f3c624" stroke-width="2.4" vector-effect="non-scaling-stroke"/>
<path d="M15,255 L70,305 L155,322" stroke="#d8a810" stroke-width="1" stroke-dasharray="1 2" vector-effect="non-scaling-stroke"/>
<path d="M298,232 L360,285 L421,298" stroke="#f3c624" stroke-width="2.4" vector-effect="non-scaling-stroke"/>
<path d="M298,232 L360,285 L421,298" stroke="#d8a810" stroke-width="1" stroke-dasharray="1 2" vector-effect="non-scaling-stroke"/>
<path d="M421,80 L410,160" stroke="#f3c624" stroke-width="2.4" vector-effect="non-scaling-stroke"/>
<path d="M421,80 L410,160" stroke="#d8a810" stroke-width="1" stroke-dasharray="1 2" vector-effect="non-scaling-stroke"/>
</g>
<g transform="translate(108 266) scale(0.15439)" fill="none" stroke-linecap="round" stroke-linejoin="round">
<path d="M0,20 C30,40 60,60 100,70 C140,75 170,80 185,95" stroke="#151515" stroke-width="1.35" vector-effect="non-scaling-stroke"/>
<path d="M0,75 C20,80 40,80 50,100 C60,125 80,140 110,150" stroke="#151515" stroke-width="1.35" vector-effect="non-scaling-stroke"/>
<path d="M0,160 C20,190 50,210 80,225 C110,240 130,250 135,265" stroke="#151515" stroke-width="1.35" vector-effect="non-scaling-stroke"/>
<path d="M0,268 C20,245 50,250 45,265" stroke="#151515" stroke-width="1.35" vector-effect="non-scaling-stroke"/>
<path d="M80,290 C75,270 95,255 130,268" stroke="#151515" stroke-width="1.35" vector-effect="non-scaling-stroke"/>
<path d="M205,35 C220,70 240,90 280,110 C310,125 340,130 370,150" stroke="#151515" stroke-width="1.35" vector-effect="non-scaling-stroke"/>
<path d="M330,80 C360,75 400,80 421,90" stroke="#151515" stroke-width="1.35" vector-effect="non-scaling-stroke"/>
<path d="M215,215 C250,200 290,180 330,182 C370,185 400,210 410,260" stroke="#151515" stroke-width="1.35" vector-effect="non-scaling-stroke"/>
<path d="M270,160 C275,200 300,250 330,300 C355,340 380,390 400,420 L421,450" stroke="#151515" stroke-width="1.35" vector-effect="non-scaling-stroke"/>
<path d="M175,195 C180,230 190,250 200,275 C210,290 240,300 260,340 C275,370 290,390 300,405" stroke="#151515" stroke-width="1.35" vector-effect="non-scaling-stroke"/>
<path d="M205,265 C190,285 175,300 160,330 C150,360 140,400 120,430" stroke="#151515" stroke-width="1.35" vector-effect="non-scaling-stroke"/>
<path d="M0,300 C30,310 60,320 100,340 C130,350 150,370 165,390 C180,405 230,410 300,410" stroke="#151515" stroke-width="1.35" vector-effect="non-scaling-stroke"/>
<path d="M0,420 C30,420 60,425 75,445" stroke="#151515" stroke-width="1.35" vector-effect="non-scaling-stroke"/>
<path d="M350,440 C380,425 400,420 421,410" stroke="#151515" stroke-width="1.35" vector-effect="non-scaling-stroke"/>
<path d="M85,5 L60,40 L30,100 L30,160" stroke="#f3c624" stroke-width="2.4" vector-effect="non-scaling-stroke"/>
<path d="M85,5 L60,40 L30,100 L30,160" stroke="#d8a810" stroke-width="1" stroke-dasharray="1 2" vector-effect="non-scaling-stroke"/>
<path d="M270,130 L255,175 L240,210 L240,250 L245,290" stroke="#f3c624" stroke-width="2.4" vector-effect="non-scaling-stroke"/>
<path d="M270,130 L255,175 L240,210 L240,250 L245,290" stroke="#d8a810" stroke-width="1" stroke-dasharray="1 2" vector-effect="non-scaling-stroke"/>
<path d="M385,65 L365,100 L345,150 L340,220" stroke="#f3c624" stroke-width="2.4" vector-effect="non-scaling-stroke"/>
<path d="M385,65 L365,100 L345,150 L340,220" stroke="#d8a810" stroke-width="1" stroke-dasharray="1 2" vector-effect="non-scaling-stroke"/>
<path d="M90,375 L160,355 L200,330 L230,300" stroke="#f3c624" stroke-width="2.4" vector-effect="non-scaling-stroke"/>
<path d="M90,375 L160,355 L200,330 L230,300" stroke="#d8a810" stroke-width="1" stroke-dasharray="1 2" vector-effect="non-scaling-stroke"/>
<path d="M0,300 L50,305" stroke="#f3c624" stroke-width="2.4" vector-effect="non-scaling-stroke"/>
<path d="M0,300 L50,305" stroke="#d8a810" stroke-width="1" stroke-dasharray="1 2" vector-effect="non-scaling-stroke"/>
</g>
<g transform="translate(168 266) scale(0.15439)" fill="none" stroke-linecap="round" stroke-linejoin="round">
<path d="M0,90 C30,80 60,65 100,65 L160,65 L160,5" stroke="#151515" stroke-width="1.35" vector-effect="non-scaling-stroke"/>
<path d="M160,80 C200,80 260,85 300,95 C320,100 340,105 360,105" stroke="#151515" stroke-width="1.35" vector-effect="non-scaling-stroke"/>
<path d="M320,80 L325,115" stroke="#151515" stroke-width="1.35" vector-effect="non-scaling-stroke"/>
<path d="M310,125 C280,140 250,150 210,155 C170,160 130,190 100,215 C85,230 70,260 65,285" stroke="#151515" stroke-width="1.35" vector-effect="non-scaling-stroke"/>
<path d="M0,200 C10,220 20,250 30,265 C35,275 40,275 45,270" stroke="#151515" stroke-width="1.35" vector-effect="non-scaling-stroke"/>
<path d="M70,205 C90,230 100,260 120,280 C160,300 200,310 240,330 C270,350 290,380 300,420" stroke="#151515" stroke-width="1.35" vector-effect="non-scaling-stroke"/>
<path d="M0,410 C30,390 60,370 90,355 C120,345 150,340 180,340" stroke="#151515" stroke-width="1.35" vector-effect="non-scaling-stroke"/>
<path d="M0,400 C20,420 35,440 45,470" stroke="#151515" stroke-width="1.35" vector-effect="non-scaling-stroke"/>
<path d="M190,410 C220,405 260,400 290,400 C320,380 340,350 360,330 C380,320 400,310 421,310" stroke="#151515" stroke-width="1.35" vector-effect="non-scaling-stroke"/>
<path d="M340,235 C370,240 400,245 421,250" stroke="#151515" stroke-width="1.35" vector-effect="non-scaling-stroke"/>
<path d="M350,295 C380,280 400,260 421,230" stroke="#151515" stroke-width="1.35" vector-effect="non-scaling-stroke"/>
<path d="M405,20 C400,50 405,80 421,100" stroke="#151515" stroke-width="1.35" vector-effect="non-scaling-stroke"/>
<path d="M15,15 L80,75 L160,90" stroke="#f3c624" stroke-width="2.4" vector-effect="non-scaling-stroke"/>
<path d="M15,15 L80,75 L160,90" stroke="#d8a810" stroke-width="1" stroke-dasharray="1 2" vector-effect="non-scaling-stroke"/>
<path d="M210,60 L260,100 L340,130 L410,215 L421,230" stroke="#f3c624" stroke-width="2.4" vector-effect="non-scaling-stroke"/>
<path d="M210,60 L260,100 L340,130 L410,215 L421,230" stroke="#d8a810" stroke-width="1" stroke-dasharray="1 2" vector-effect="non-scaling-stroke"/>
<path d="M160,260 L120,300 L95,330 L85,395" stroke="#f3c624" stroke-width="2.4" vector-effect="non-scaling-stroke"/>
<path d="M160,260 L120,300 L95,330 L85,395" stroke="#d8a810" stroke-width="1" stroke-dasharray="1 2" vector-effect="non-scaling-stroke"/>
<path d="M235,310 L240,350 L240,410 L280,455" stroke="#f3c624" stroke-width="2.4" vector-effect="non-scaling-stroke"/>
<path d="M235,310 L240,350 L240,410 L280,455" stroke="#d8a810" stroke-width="1" stroke-dasharray="1 2" vector-effect="non-scaling-stroke"/>
<path d="M400,250 L400,300 L405,370 L421,395" stroke="#f3c624" stroke-width="2.4" vector-effect="non-scaling-stroke"/>
<path d="M400,250 L400,300 L405,370 L421,395" stroke="#d8a810" stroke-width="1" stroke-dasharray="1 2" vector-effect="non-scaling-stroke"/>
</g>
<g transform="translate(228 266) scale(0.15439)" fill="none" stroke-linecap="round" stroke-linejoin="round">
<path d="M10,20 C15,60 30,90 60,110 C90,125 130,140 145,170 C150,195 155,230 155,240" stroke="#151515" stroke-width="1.35" vector-effect="non-scaling-stroke"/>
<path d="M110,55 C80,80 50,110 35,150 C25,185 20,230 15,260" stroke="#151515" stroke-width="1.35" vector-effect="non-scaling-stroke"/>
<path d="M250,15 C245,40 250,60 280,70 C310,80 340,80 345,110 C345,130 310,150 280,195" stroke="#151515" stroke-width="1.35" vector-effect="non-scaling-stroke"/>
<path d="M245,60 C240,80 220,100 190,110 L150,115" stroke="#151515" stroke-width="1.35" vector-effect="non-scaling-stroke"/>
<path d="M135,125 C120,150 100,180 85,200" stroke="#151515" stroke-width="1.35" vector-effect="non-scaling-stroke"/>
<path d="M0,260 C40,265 100,270 150,275 C170,278 195,285 215,300 C220,315 220,335 215,350" stroke="#151515" stroke-width="1.35" vector-effect="non-scaling-stroke"/>
<path d="M225,230 C215,260 200,280 195,300" stroke="#151515" stroke-width="1.35" vector-effect="non-scaling-stroke"/>
<path d="M230,280 C260,270 300,262 340,262 C370,262 400,250 421,230" stroke="#151515" stroke-width="1.35" vector-effect="non-scaling-stroke"/>
<path d="M0,315 C30,320 60,310 75,305" stroke="#151515" stroke-width="1.35" vector-effect="non-scaling-stroke"/>
<path d="M0,350 C50,355 100,360 150,380 C180,395 200,410 220,420" stroke="#151515" stroke-width="1.35" vector-effect="non-scaling-stroke"/>
<path d="M220,340 C250,345 280,350 295,365 C305,380 310,400 320,420" stroke="#151515" stroke-width="1.35" vector-effect="non-scaling-stroke"/>
<path d="M30,40 L100,105 L180,115" stroke="#f3c624" stroke-width="2.4" vector-effect="non-scaling-stroke"/>
<path d="M30,40 L100,105 L180,115" stroke="#d8a810" stroke-width="1" stroke-dasharray="1 2" vector-effect="non-scaling-stroke"/>
<path d="M0,210 L20,215 L90,220" stroke="#f3c624" stroke-width="2.4" vector-effect="non-scaling-stroke"/>
<path d="M0,210 L20,215 L90,220" stroke="#d8a810" stroke-width="1" stroke-dasharray="1 2" vector-effect="non-scaling-stroke"/>
<path d="M150,240 L220,300 L280,315" stroke="#f3c624" stroke-width="2.4" vector-effect="non-scaling-stroke"/>
<path d="M150,240 L220,300 L280,315" stroke="#d8a810" stroke-width="1" stroke-dasharray="1 2" vector-effect="non-scaling-stroke"/>
<path d="M290,95 L360,160 L421,170" stroke="#f3c624" stroke-width="2.4" vector-effect="non-scaling-stroke"/>
<path d="M290,95 L360,160 L421,170" stroke="#d8a810" stroke-width="1" stroke-dasharray="1 2" vector-effect="non-scaling-stroke"/>
<path d="M290,225 L350,265 L421,285" stroke="#f3c624" stroke-width="2.4" vector-effect="non-scaling-stroke"/>
<path d="M290,225 L350,265 L421,285" stroke="#d8a810" stroke-width="1" stroke-dasharray="1 2" vector-effect="non-scaling-stroke"/>
<path d="M15,260 L10,300 L15,360 L40,395" stroke="#f3c624" stroke-width="2.4" vector-effect="non-scaling-stroke"/>
<path d="M15,260 L10,300 L15,360 L40,395" stroke="#d8a810" stroke-width="1" stroke-dasharray="1 2" vector-effect="non-scaling-stroke"/>
</g>
<g transform="translate(45 380.3) scale(0.15439)" fill="none" stroke-linecap="round" stroke-linejoin="round">
<path d="M48,95 C40,125 60,132 95,130 C130,128 150,100 170,80 C195,60 230,45 262,45" stroke="#151515" stroke-width="1.35" vector-effect="non-scaling-stroke"/>
<path d="M90,135 C85,175 110,200 140,210 C180,215 250,210 290,225 C300,235 300,245 305,250" stroke="#151515" stroke-width="1.35" vector-effect="non-scaling-stroke"/>
<path d="M170,145 C178,180 160,200 120,215 C80,225 65,245 65,290 C65,330 100,370 130,400 L135,430" stroke="#151515" stroke-width="1.35" vector-effect="non-scaling-stroke"/>
<path d="M55,455 C75,420 110,410 140,395 C175,375 200,350 215,320" stroke="#151515" stroke-width="1.35" vector-effect="non-scaling-stroke"/>
<path d="M183,315 C220,330 250,350 265,385 C280,410 330,415 421,425" stroke="#151515" stroke-width="1.35" vector-effect="non-scaling-stroke"/>
<path d="M260,295 C300,298 340,290 360,280 C380,262 400,248 421,240" stroke="#151515" stroke-width="1.35" vector-effect="non-scaling-stroke"/>
<path d="M295,55 C330,75 380,75 421,80" stroke="#151515" stroke-width="1.35" vector-effect="non-scaling-stroke"/>
<path d="M380,10 C400,25 410,35 421,45" stroke="#151515" stroke-width="1.35" vector-effect="non-scaling-stroke"/>
<path d="M395,160 C405,180 410,195 421,205" stroke="#151515" stroke-width="1.35" vector-effect="non-scaling-stroke"/>
</g>
<g transform="translate(105 380.3) scale(0.15439)" fill="none" stroke-linecap="round" stroke-linejoin="round">
<path d="M0,20 C30,40 60,60 100,70 C140,75 170,80 185,95" stroke="#151515" stroke-width="1.35" vector-effect="non-scaling-stroke"/>
<path d="M0,75 C20,80 40,80 50,100 C60,125 80,140 110,150" stroke="#151515" stroke-width="1.35" vector-effect="non-scaling-stroke"/>
<path d="M0,160 C20,190 50,210 80,225 C110,240 130,250 135,265" stroke="#151515" stroke-width="1.35" vector-effect="non-scaling-stroke"/>
<path d="M0,268 C20,245 50,250 45,265" stroke="#151515" stroke-width="1.35" vector-effect="non-scaling-stroke"/>
<path d="M80,290 C75,270 95,255 130,268" stroke="#151515" stroke-width="1.35" vector-effect="non-scaling-stroke"/>
<path d="M205,35 C220,70 240,90 280,110 C310,125 340,130 370,150" stroke="#151515" stroke-width="1.35" vector-effect="non-scaling-stroke"/>
<path d="M330,80 C360,75 400,80 421,90" stroke="#151515" stroke-width="1.35" vector-effect="non-scaling-stroke"/>
<path d="M215,215 C250,200 290,180 330,182 C370,185 400,210 410,260" stroke="#151515" stroke-width="1.35" vector-effect="non-scaling-stroke"/>
<path d="M270,160 C275,200 300,250 330,300 C355,340 380,390 400,420 L421,450" stroke="#151515" stroke-width="1.35" vector-effect="non-scaling-stroke"/>
<path d="M175,195 C180,230 190,250 200,275 C210,290 240,300 260,340 C275,370 290,390 300,405" stroke="#151515" stroke-width="1.35" vector-effect="non-scaling-stroke"/>
<path d="M205,265 C190,285 175,300 160,330 C150,360 140,400 120,430" stroke="#151515" stroke-width="1.35" vector-effect="non-scaling-stroke"/>
<path d="M0,300 C30,310 60,320 100,340 C130,350 150,370 165,390 C180,405 230,410 300,410" stroke="#151515" stroke-width="1.35" vector-effect="non-scaling-stroke"/>
<path d="M0,420 C30,420 60,425 75,445" stroke="#151515" stroke-width="1.35" vector-effect="non-scaling-stroke"/>
<path d="M350,440 C380,425 400,420 421,410" stroke="#151515" stroke-width="1.35" vector-effect="non-scaling-stroke"/>
</g>
<g transform="translate(165 380.3) scale(0.15439)" fill="none" stroke-linecap="round" stroke-linejoin="round">
<path d="M0,90 C30,80 60,65 100,65 L160,65 L160,5" stroke="#151515" stroke-width="1.35" vector-effect="non-scaling-stroke"/>
<path d="M160,80 C200,80 260,85 300,95 C320,100 340,105 360,105" stroke="#151515" stroke-width="1.35" vector-effect="non-scaling-stroke"/>
<path d="M320,80 L325,115" stroke="#151515" stroke-width="1.35" vector-effect="non-scaling-stroke"/>
<path d="M310,125 C280,140 250,150 210,155 C170,160 130,190 100,215 C85,230 70,260 65,285" stroke="#151515" stroke-width="1.35" vector-effect="non-scaling-stroke"/>
<path d="M0,200 C10,220 20,250 30,265 C35,275 40,275 45,270" stroke="#151515" stroke-width="1.35" vector-effect="non-scaling-stroke"/>
<path d="M70,205 C90,230 100,260 120,280 C160,300 200,310 240,330 C270,350 290,380 300,420" stroke="#151515" stroke-width="1.35" vector-effect="non-scaling-stroke"/>
<path d="M0,410 C30,390 60,370 90,355 C120,345 150,340 180,340" stroke="#151515" stroke-width="1.35" vector-effect="non-scaling-stroke"/>
<path d="M0,400 C20,420 35,440 45,470" stroke="#151515" stroke-width="1.35" vector-effect="non-scaling-stroke"/>
<path d="M190,410 C220,405 260,400 290,400 C320,380 340,350 360,330 C380,320 400,310 421,310" stroke="#151515" stroke-width="1.35" vector-effect="non-scaling-stroke"/>
<path d="M340,235 C370,240 400,245 421,250" stroke="#151515" stroke-width="1.35" vector-effect="non-scaling-stroke"/>
<path d="M350,295 C380,280 400,260 421,230" stroke="#151515" stroke-width="1.35" vector-effect="non-scaling-stroke"/>
<path d="M405,20 C400,50 405,80 421,100" stroke="#151515" stroke-width="1.35" vector-effect="non-scaling-stroke"/>
</g>
<g transform="translate(225 380.3) scale(0.15439)" fill="none" stroke-linecap="round" stroke-linejoin="round">
<path d="M10,20 C15,60 30,90 60,110 C90,125 130,140 145,170 C150,195 155,230 155,240" stroke="#151515" stroke-width="1.35" vector-effect="non-scaling-stroke"/>
<path d="M110,55 C80,80 50,110 35,150 C25,185 20,230 15,260" stroke="#151515" stroke-width="1.35" vector-effect="non-scaling-stroke"/>
<path d="M250,15 C245,40 250,60 280,70 C310,80 340,80 345,110 C345,130 310,150 280,195" stroke="#151515" stroke-width="1.35" vector-effect="non-scaling-stroke"/>
<path d="M245,60 C240,80 220,100 190,110 L150,115" stroke="#151515" stroke-width="1.35" vector-effect="non-scaling-stroke"/>
<path d="M135,125 C120,150 100,180 85,200" stroke="#151515" stroke-width="1.35" vector-effect="non-scaling-stroke"/>
<path d="M0,260 C40,265 100,270 150,275 C170,278 195,285 215,300 C220,315 220,335 215,350" stroke="#151515" stroke-width="1.35" vector-effect="non-scaling-stroke"/>
<path d="M225,230 C215,260 200,280 195,300" stroke="#151515" stroke-width="1.35" vector-effect="non-scaling-stroke"/>
<path d="M230,280 C260,270 300,262 340,262 C370,262 400,250 421,230" stroke="#151515" stroke-width="1.35" vector-effect="non-scaling-stroke"/>
<path d="M0,315 C30,320 60,310 75,305" stroke="#151515" stroke-width="1.35" vector-effect="non-scaling-stroke"/>
<path d="M0,350 C50,355 100,360 150,380 C180,395 200,410 220,420" stroke="#151515" stroke-width="1.35" vector-effect="non-scaling-stroke"/>
<path d="M220,340 C250,345 280,350 295,365 C305,380 310,400 320,420" stroke="#151515" stroke-width="1.35" vector-effect="non-scaling-stroke"/>
</g>
<circle cx="70.4" cy="392.4" r="3.5" fill="url(#ps)"/>
<circle cx="102.0" cy="394.7" r="3.5" fill="url(#ps)"/>
<circle cx="57.3" cy="426.3" r="3.5" fill="url(#ps)"/>
<circle cx="109.0" cy="424.0" r="3.5" fill="url(#ps)"/>
<circle cx="64.2" cy="446.4" r="3.5" fill="url(#ps)"/>
<circle cx="94.3" cy="445.6" r="3.5" fill="url(#ps)"/>
<circle cx="124.2" cy="390.5" r="3.5" fill="url(#ps)"/>
<circle cx="147.4" cy="395.4" r="3.5" fill="url(#ps)"/>
<circle cx="126.2" cy="415.8" r="3.5" fill="url(#ps)"/>
<circle cx="109.5" cy="423.2" r="3.5" fill="url(#ps)"/>
<circle cx="161.3" cy="429.4" r="3.5" fill="url(#ps)"/>
<circle cx="114.9" cy="446.7" r="3.5" fill="url(#ps)"/>
<circle cx="143.5" cy="447.9" r="3.5" fill="url(#ps)"/>
<circle cx="181.9" cy="391.6" r="3.5" fill="url(#ps)"/>
<circle cx="202.0" cy="403.9" r="3.5" fill="url(#ps)"/>
<circle cx="184.2" cy="417.8" r="3.5" fill="url(#ps)"/>
<circle cx="178.0" cy="444.1" r="3.5" fill="url(#ps)"/>
<circle cx="205.8" cy="444.8" r="3.5" fill="url(#ps)"/>
<circle cx="228.2" cy="388.5" r="3.5" fill="url(#ps)"/>
<circle cx="231.3" cy="406.2" r="3.5" fill="url(#ps)"/>
<circle cx="229.5" cy="388.5" r="3.5" fill="url(#ps)"/>
<circle cx="276.6" cy="392.4" r="3.5" fill="url(#ps)"/>
<circle cx="232.6" cy="407.0" r="3.5" fill="url(#ps)"/>
<circle cx="275.9" cy="420.9" r="3.5" fill="url(#ps)"/>
<circle cx="239.6" cy="439.4" r="3.5" fill="url(#ps)"/>
<circle cx="271.2" cy="441.0" r="3.5" fill="url(#ps)"/>
<circle cx="258.1" cy="447.2" r="3.5" fill="url(#ps)"/>
<g transform="translate(48 380) scale(0.15439)" fill="none" stroke-linecap="round" stroke-linejoin="round" opacity="0.92">
<path d="M120,50 L200,110 L250,125 L275,75" stroke="#f3c624" stroke-width="2.4" vector-effect="non-scaling-stroke"/>
<path d="M120,50 L200,110 L250,125 L275,75" stroke="#d8a810" stroke-width="1" stroke-dasharray="1 2" vector-effect="non-scaling-stroke"/>
<path d="M250,125 L235,165 L245,215 L290,240 L350,285 L421,295" stroke="#f3c624" stroke-width="2.4" vector-effect="non-scaling-stroke"/>
<path d="M250,125 L235,165 L245,215 L290,240 L350,285 L421,295" stroke="#d8a810" stroke-width="1" stroke-dasharray="1 2" vector-effect="non-scaling-stroke"/>
<path d="M30,255 L60,285 L95,315 L180,325" stroke="#f3c624" stroke-width="2.4" vector-effect="non-scaling-stroke"/>
<path d="M30,255 L60,285 L95,315 L180,325" stroke="#d8a810" stroke-width="1" stroke-dasharray="1 2" vector-effect="non-scaling-stroke"/>
<path d="M50,400 L90,430 L125,460 L190,465" stroke="#f3c624" stroke-width="2.4" vector-effect="non-scaling-stroke"/>
<path d="M50,400 L90,430 L125,460 L190,465" stroke="#d8a810" stroke-width="1" stroke-dasharray="1 2" vector-effect="non-scaling-stroke"/>
<path d="M320,405 L360,430 L400,470" stroke="#f3c624" stroke-width="2.4" vector-effect="non-scaling-stroke"/>
<path d="M320,405 L360,430 L400,470" stroke="#d8a810" stroke-width="1" stroke-dasharray="1 2" vector-effect="non-scaling-stroke"/>
</g>
<g transform="translate(108 380) scale(0.15439)" fill="none" stroke-linecap="round" stroke-linejoin="round" opacity="0.92">
<path d="M65,70 L100,95 L130,130 L200,135" stroke="#f3c624" stroke-width="2.4" vector-effect="non-scaling-stroke"/>
<path d="M65,70 L100,95 L130,130 L200,135" stroke="#d8a810" stroke-width="1" stroke-dasharray="1 2" vector-effect="non-scaling-stroke"/>
<path d="M230,70 L265,105 L300,130 L360,145" stroke="#f3c624" stroke-width="2.4" vector-effect="non-scaling-stroke"/>
<path d="M230,70 L265,105 L300,130 L360,145" stroke="#d8a810" stroke-width="1" stroke-dasharray="1 2" vector-effect="non-scaling-stroke"/>
<path d="M285,265 L330,300 L350,320 L421,330" stroke="#f3c624" stroke-width="2.4" vector-effect="non-scaling-stroke"/>
<path d="M285,265 L330,300 L350,320 L421,330" stroke="#d8a810" stroke-width="1" stroke-dasharray="1 2" vector-effect="non-scaling-stroke"/>
<path d="M160,395 L200,430 L225,455 L300,462" stroke="#f3c624" stroke-width="2.4" vector-effect="non-scaling-stroke"/>
<path d="M160,395 L200,430 L225,455 L300,462" stroke="#d8a810" stroke-width="1" stroke-dasharray="1 2" vector-effect="non-scaling-stroke"/>
<path d="M0,295 L20,290" stroke="#f3c624" stroke-width="2.4" vector-effect="non-scaling-stroke"/>
<path d="M0,295 L20,290" stroke="#d8a810" stroke-width="1" stroke-dasharray="1 2" vector-effect="non-scaling-stroke"/>
<path d="M410,40 L421,50" stroke="#f3c624" stroke-width="2.4" vector-effect="non-scaling-stroke"/>
<path d="M410,40 L421,50" stroke="#d8a810" stroke-width="1" stroke-dasharray="1 2" vector-effect="non-scaling-stroke"/>
</g>
<g transform="translate(168 380) scale(0.15439)" fill="none" stroke-linecap="round" stroke-linejoin="round" opacity="0.92">
<path d="M15,40 L60,75 L100,105 L160,110" stroke="#f3c624" stroke-width="2.4" vector-effect="non-scaling-stroke"/>
<path d="M15,40 L60,75 L100,105 L160,110" stroke="#d8a810" stroke-width="1" stroke-dasharray="1 2" vector-effect="non-scaling-stroke"/>
<path d="M195,25 L250,65 L280,85 L335,90" stroke="#f3c624" stroke-width="2.4" vector-effect="non-scaling-stroke"/>
<path d="M195,25 L250,65 L280,85 L335,90" stroke="#d8a810" stroke-width="1" stroke-dasharray="1 2" vector-effect="non-scaling-stroke"/>
<path d="M25,205 L70,240 L110,265 L165,270" stroke="#f3c624" stroke-width="2.4" vector-effect="non-scaling-stroke"/>
<path d="M25,205 L70,240 L110,265 L165,270" stroke="#d8a810" stroke-width="1" stroke-dasharray="1 2" vector-effect="non-scaling-stroke"/>
<path d="M245,230 L220,280 L200,320 L205,370" stroke="#f3c624" stroke-width="2.4" vector-effect="non-scaling-stroke"/>
<path d="M245,230 L220,280 L200,320 L205,370" stroke="#d8a810" stroke-width="1" stroke-dasharray="1 2" vector-effect="non-scaling-stroke"/>
<path d="M120,335 L95,380 L80,420 L85,470" stroke="#f3c624" stroke-width="2.4" vector-effect="non-scaling-stroke"/>
<path d="M120,335 L95,380 L80,420 L85,470" stroke="#d8a810" stroke-width="1" stroke-dasharray="1 2" vector-effect="non-scaling-stroke"/>
<path d="M205,410 L240,440 L270,465 L330,470" stroke="#f3c624" stroke-width="2.4" vector-effect="non-scaling-stroke"/>
<path d="M205,410 L240,440 L270,465 L330,470" stroke="#d8a810" stroke-width="1" stroke-dasharray="1 2" vector-effect="non-scaling-stroke"/>
<path d="M0,325 L40,325" stroke="#f3c624" stroke-width="2.4" vector-effect="non-scaling-stroke"/>
<path d="M0,325 L40,325" stroke="#d8a810" stroke-width="1" stroke-dasharray="1 2" vector-effect="non-scaling-stroke"/>
<path d="M370,30 L400,55 L421,70" stroke="#f3c624" stroke-width="2.4" vector-effect="non-scaling-stroke"/>
<path d="M370,30 L400,55 L421,70" stroke="#d8a810" stroke-width="1" stroke-dasharray="1 2" vector-effect="non-scaling-stroke"/>
<path d="M385,160 L405,185 L421,195" stroke="#f3c624" stroke-width="2.4" vector-effect="non-scaling-stroke"/>
<path d="M385,160 L405,185 L421,195" stroke="#d8a810" stroke-width="1" stroke-dasharray="1 2" vector-effect="non-scaling-stroke"/>
</g>
<g transform="translate(228 380) scale(0.15439)" fill="none" stroke-linecap="round" stroke-linejoin="round" opacity="0.92">
<path d="M0,40 L40,70 L70,90 L125,92" stroke="#f3c624" stroke-width="2.4" vector-effect="non-scaling-stroke"/>
<path d="M0,40 L40,70 L70,90 L125,92" stroke="#d8a810" stroke-width="1" stroke-dasharray="1 2" vector-effect="non-scaling-stroke"/>
<path d="M270,60 L310,95 L340,125 L405,135" stroke="#f3c624" stroke-width="2.4" vector-effect="non-scaling-stroke"/>
<path d="M270,60 L310,95 L340,125 L405,135" stroke="#d8a810" stroke-width="1" stroke-dasharray="1 2" vector-effect="non-scaling-stroke"/>
<path d="M0,175 L30,195 L65,225 L130,235" stroke="#f3c624" stroke-width="2.4" vector-effect="non-scaling-stroke"/>
<path d="M0,175 L30,195 L65,225 L130,235" stroke="#d8a810" stroke-width="1" stroke-dasharray="1 2" vector-effect="non-scaling-stroke"/>
<path d="M265,215 L300,250 L340,275 L405,280" stroke="#f3c624" stroke-width="2.4" vector-effect="non-scaling-stroke"/>
<path d="M265,215 L300,250 L340,275 L405,280" stroke="#d8a810" stroke-width="1" stroke-dasharray="1 2" vector-effect="non-scaling-stroke"/>
<path d="M20,320 L60,360 L120,400 L150,410" stroke="#f3c624" stroke-width="2.4" vector-effect="non-scaling-stroke"/>
<path d="M20,320 L60,360 L120,400 L150,410" stroke="#d8a810" stroke-width="1" stroke-dasharray="1 2" vector-effect="non-scaling-stroke"/>
<path d="M240,345 L280,385 L320,400 L380,405" stroke="#f3c624" stroke-width="2.4" vector-effect="non-scaling-stroke"/>
<path d="M240,345 L280,385 L320,400 L380,405" stroke="#d8a810" stroke-width="1" stroke-dasharray="1 2" vector-effect="non-scaling-stroke"/>
<path d="M150,400 L190,440 L230,460 L300,465" stroke="#f3c624" stroke-width="2.4" vector-effect="non-scaling-stroke"/>
<path d="M150,400 L190,440 L230,460 L300,465" stroke="#d8a810" stroke-width="1" stroke-dasharray="1 2" vector-effect="non-scaling-stroke"/>
</g>
<rect x="272.3" y="294.5" width="21.6" height="20.7" fill="none" stroke="#c82828" stroke-width="1.1" stroke-dasharray="3 1.5"/>
<line x1="298" y1="305.5" x2="359" y2="305.5" stroke="#e06060" stroke-width="0.8" stroke-dasharray="3 2"/>
<polygon points="358.8,302.5 364.5,305.5 358.8,308.5" fill="#d42020"/>
<rect x="266.6" y="411" width="22.4" height="20.5" fill="none" stroke="#c82828" stroke-width="1.1" stroke-dasharray="3 1.5"/>
<line x1="294" y1="419.5" x2="355" y2="419.5" stroke="#e06060" stroke-width="0.8" stroke-dasharray="3 2"/>
<polygon points="354.5,416.5 360.3,419.6 354.5,422.7" fill="#d42020"/>
<rect x="379.5" y="269.5" width="16.2" height="78" rx="8.1" ry="2.5" fill="url(#chk)"/>
<line x1="380.3" y1="272.5" x2="380.3" y2="345.5" stroke="#222" stroke-width="1.4" stroke-dasharray="1.2 0.8" opacity="0.8"/>
<line x1="394.9" y1="272.5" x2="394.9" y2="345.5" stroke="#333" stroke-width="1.1" stroke-dasharray="1.2 0.8" opacity="0.7"/>
<rect x="382" y="384.7" width="15.8" height="79.5" rx="7.9" ry="2.5" fill="url(#chk)"/>
<line x1="382.8" y1="387.7" x2="382.8" y2="462.2" stroke="#222" stroke-width="1.4" stroke-dasharray="1.2 0.8" opacity="0.8"/>
<line x1="397.0" y1="387.7" x2="397.0" y2="462.2" stroke="#333" stroke-width="1.1" stroke-dasharray="1.2 0.8" opacity="0.7"/>
<rect x="601" y="391.7" width="15" height="78.3" rx="7.5" ry="2.5" fill="url(#chk)"/>
<line x1="601.8" y1="394.7" x2="601.8" y2="468.0" stroke="#222" stroke-width="1.4" stroke-dasharray="1.2 0.8" opacity="0.8"/>
<line x1="615.2" y1="394.7" x2="615.2" y2="468.0" stroke="#333" stroke-width="1.1" stroke-dasharray="1.2 0.8" opacity="0.7"/>
<polyline points="423.8,292 423.8,276 426,277.5 428,279" fill="none" stroke="#c8c8c8" stroke-width="0.7"/>
<line x1="403" y1="306.9" x2="424" y2="306.9" stroke="#1fa050" stroke-width="1.6"/>
<polygon points="399.3,306.9 405,303.8 405,310" fill="#1fa050"/>
<polygon points="428,306.9 422.3,303.8 422.3,310" fill="#1fa050"/>
<line x1="552.3" y1="424.7" x2="569" y2="424.7" stroke="#1fa050" stroke-width="1.6"/>
<polygon points="573.6,424.7 568,421.7 568,427.7" fill="#1fa050"/>
<polyline points="444,313 438.2,301.2 454,301.2 450,313" fill="none" stroke="#000" stroke-width="1.4"/>
<text x="447" y="320.5" font-size="10.8" fill="#111" font-weight="bold" text-anchor="middle" >O</text>
<polyline points="454,301.2 468,307.8 473.6,304.6" fill="none" stroke="#000" stroke-width="1.4"/>
<text x="480.3" y="307.3" font-size="10.8" fill="#dc8a48" font-weight="normal" text-anchor="middle" stroke="#dc8a48" stroke-width="0.35" >R</text>
<polyline points="485.6,304.6 492,307.8 503.3,301.2" fill="none" stroke="#000" stroke-width="1.4"/>
<polyline points="509.20000000000005,313 503.3,301.2 520,301.2 515.2,313" fill="none" stroke="#000" stroke-width="1.4"/>
<text x="512.2" y="320.5" font-size="10.8" fill="#111" font-weight="bold" text-anchor="middle" >O</text>
<polyline points="455.6,434.5 451.1,422.3 468.3,422.3 461.6,434.5" fill="none" stroke="#000" stroke-width="1.4"/>
<text x="458.6" y="442.0" font-size="10.8" fill="#111" font-weight="bold" text-anchor="middle" >O</text>
<polyline points="468.3,422.3 482.5,428.3 489.6,425.3" fill="none" stroke="#000" stroke-width="1.4"/>
<text x="496.5" y="428.5" font-size="10.8" fill="#dc8a48" font-weight="normal" text-anchor="middle" stroke="#dc8a48" stroke-width="0.35" >R</text>
<polyline points="501.7,425.3 508.8,428.3 523,422.3" fill="none" stroke="#000" stroke-width="1.4"/>
<polyline points="529,434.5 523,422.3 539.6,422.3 535,434.5" fill="none" stroke="#000" stroke-width="1.4"/>
<text x="532" y="442.0" font-size="10.8" fill="#111" font-weight="bold" text-anchor="middle" >O</text>
<text x="579.4" y="310.7" font-size="17.7" fill="#c82020" font-weight="normal" text-anchor="start" stroke="#c82020" stroke-width="0.25" >van der Waals’ force</text>
<text x="594.9" y="375.2" font-size="17.7" fill="#c82020" font-weight="normal" text-anchor="start" stroke="#c82020" stroke-width="0.25" >chemical bond</text>
<text x="404.4" y="399.3" font-size="10.8" fill="#111" font-weight="bold" text-anchor="middle" >O</text>
<line x1="403.4" y1="399.8" x2="403.4" y2="405" stroke="#000" stroke-width="0.7"/><line x1="405.6" y1="399.8" x2="405.6" y2="405" stroke="#000" stroke-width="0.7"/>
<text x="396.5" y="414.2" font-size="10.8" fill="#111" font-weight="bold" text-anchor="start" >-C-OH</text>
<text x="375.2" y="431.5" font-size="9.6" fill="#111" font-weight="bold" text-anchor="middle" >H</text>
<line x1="375.2" y1="433.3" x2="375.2" y2="437.7" stroke="#555" stroke-width="0.8"/>
<text x="357.6" y="446.7" font-size="10.2" fill="#111" font-weight="bold" text-anchor="start" >O=C-</text>
<text x="397.4" y="457.2" font-size="10.4" fill="#111" font-weight="bold" text-anchor="start" >-OH</text>
<text x="436.7" y="429.5" font-size="14" fill="#111" font-weight="normal" text-anchor="middle" stroke="#111" stroke-width="0.25" >+</text>
<text x="616.3" y="412.5" font-size="11.3" fill="#111" font-weight="bold" text-anchor="start" >-C-O-CH<tspan font-size="7" dy="2">2</tspan><tspan dy="-2">-CH</tspan></text>
<text x="636.3" y="396.2" font-size="11" fill="#111" font-weight="bold" text-anchor="middle" >O</text>
<line x1="635.2" y1="399.2" x2="635.2" y2="403.8" stroke="#000" stroke-width="0.7"/><line x1="637.4" y1="399.2" x2="637.4" y2="403.8" stroke="#000" stroke-width="0.7"/>
<text x="676.2" y="396.4" font-size="11" fill="#111" font-weight="bold" text-anchor="middle" >OH</text>
<line x1="671.7" y1="399.5" x2="671.7" y2="404.2" stroke="#000" stroke-width="0.8"/>
<polyline points="685,409 697.8,414.4 703,410" fill="none" stroke="#000" stroke-width="1.1"/>
<text x="708.5" y="413.5" font-size="10.8" fill="#dc8a48" font-weight="normal" text-anchor="middle" stroke="#dc8a48" stroke-width="0.35" >R</text>
<polyline points="713,410 718,412.6 729.4,407.3 745.8,407.3 741,418" fill="none" stroke="#000" stroke-width="1.1"/>
<line x1="729.4" y1="407.3" x2="735.5" y2="418" stroke="#000" stroke-width="1.1"/>
<text x="738.3" y="425.5" font-size="10.8" fill="#111" font-weight="bold" text-anchor="middle" >O</text>
<text x="592.6" y="438.9" font-size="10.4" fill="#111" font-weight="bold" text-anchor="middle" >H</text>
<line x1="592.4" y1="441.7" x2="592.4" y2="445.5" stroke="#555" stroke-width="0.8"/>
<text x="573.5" y="455.3" font-size="11.2" fill="#111" font-weight="bold" text-anchor="start" >O=C-</text>
<text x="615.9" y="455.3" font-size="10.7" fill="#111" font-weight="bold" text-anchor="start" >-O-CH<tspan font-size="7" dy="2">2</tspan><tspan dy="-2">-CH</tspan></text>
<text x="654.1" y="437.5" font-size="10.8" fill="#111" font-weight="bold" text-anchor="start" >OH</text>
<line x1="657.3" y1="438.8" x2="657.3" y2="443" stroke="#000" stroke-width="0.8"/>
<polyline points="670.4,444.5 737,444.5 737,443 760,443" fill="none" stroke="#777" stroke-width="0.8"/>
<polyline points="672.9,449.3 683.9,454.9 690,451.6" fill="none" stroke="#000" stroke-width="1.1"/>
<text x="696.7" y="455" font-size="10.8" fill="#dc8a48" font-weight="normal" text-anchor="middle" stroke="#dc8a48" stroke-width="0.35" >R</text>
<polyline points="702,450.5 706.6,453.6 716.8,449.8 730.7,449.8 727,460" fill="none" stroke="#000" stroke-width="1.1"/>
<line x1="716.8" y1="449.8" x2="721.5" y2="460" stroke="#000" stroke-width="1.1"/>
<text x="724.3" y="467.2" font-size="10.8" fill="#111" font-weight="bold" text-anchor="middle" >O</text>
<path d="M55.3,476 C62,474 68,478 74,477.5 C80,477 84,475 87.2,476.5" fill="none" stroke="#111" stroke-width="1.6"/>
<text x="92.8" y="484.4" font-size="14" fill="#111" font-weight="normal" text-anchor="start" stroke="#111" stroke-width="0.25" >CNT</text>
<polyline points="132,471.5 138,477 143,482 154,482.5" fill="none" stroke="#f2c020" stroke-width="2.4"/>
<text x="156.7" y="484.4" font-size="14.2" fill="#111" font-weight="normal" text-anchor="start" stroke="#111" stroke-width="0.25" >Epoxy molecule</text>
<circle cx="269" cy="479.7" r="4" fill="url(#ps)"/>
<text x="282.9" y="485.8" font-size="14" fill="#111" font-weight="normal" text-anchor="start" stroke="#111" stroke-width="0.25" xml:space="preserve">Oxygen-containing  groups</text>
</svg>
</body></html>
